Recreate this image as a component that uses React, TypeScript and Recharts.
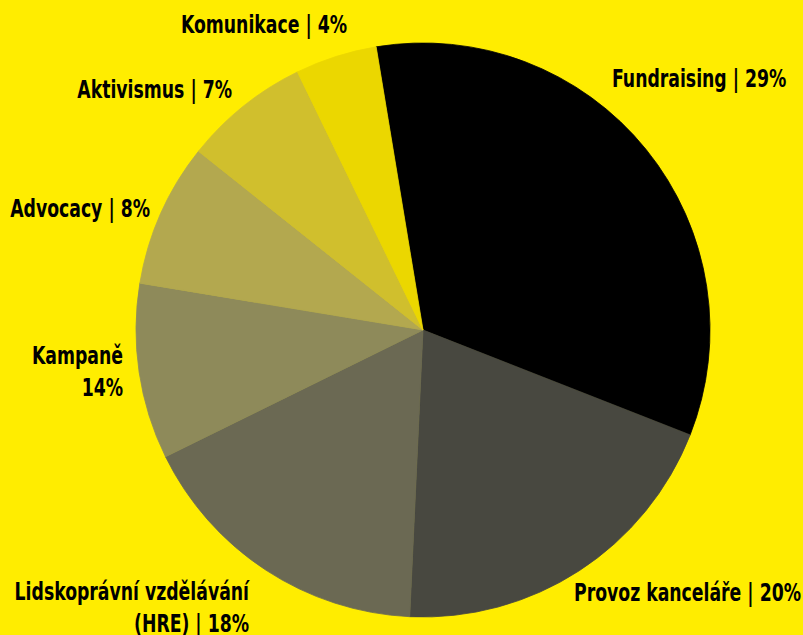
import { PieChart, Pie, Cell } from 'recharts'

// slice sizes (percent of the circle)
const categories = [
  'Fundraising',
  'Provoz kanceláře',
  'Lidskoprávní vzdělávání',
  'Kampaně',
  'Advocacy',
  'Aktivismus',
  'Komunikace',
]
const values = [33.6, 19.8, 17.0, 9.9, 8.1, 7.1, 4.6]
// label text as printed (line breaks where the reference breaks)
const labelLines = [
  ['Fundraising | 29%'],
  ['Provoz kanceláře | 20%'],
  ['Lidskoprávní vzdělávání', '(HRE) | 18%'],
  ['Kampaně', '14%'],
  ['Advocacy | 8%'],
  ['Aktivismus | 7%'],
  ['Komunikace | 4%'],
]
const colors = ['#000000', '#484840', '#6b6953', '#8e8a5a', '#b3a84f', '#d0bf2d', '#ebd700']

// where each label sits: aligned edge x, vertical centre y, alignment
const labelPos = [
  { x: 612, y: 78, anchor: 'start' },
  { x: 574, y: 592, anchor: 'start' },
  { x: 249, y: 607, anchor: 'end' },
  { x: 123, y: 371, anchor: 'end' },
  { x: 150, y: 208, anchor: 'end' },
  { x: 232, y: 89, anchor: 'end' },
  { x: 347, y: 24, anchor: 'end' },
]

const data = categories.map((name, i) => ({ name, value: values[i] }))

const FONT = '"Liberation Sans Narrow", "DejaVu Sans Condensed", sans-serif'
const SQUEEZE = 0.8 // no narrow font installed, so condense horizontally

function renderLabel(props: any) {
  const { index } = props
  const pos = labelPos[index]
  const lines = labelLines[index]
  const lineHeight = 32
  const top = -((lines.length - 1) * lineHeight) / 2
  return (
    <g transform={`translate(${pos.x},${pos.y}) scale(${SQUEEZE},1)`}>
      <text
        x={0}
        y={top}
        textAnchor={pos.anchor as any}
        dominantBaseline="central"
        fill="#000"
        fontFamily={FONT}
        fontWeight={700}
        fontSize={24}
      >
        {lines.map((line, i) => (
          <tspan key={i} x={0} dy={i === 0 ? 0 : lineHeight}>
            {line}
          </tspan>
        ))}
      </text>
    </g>
  )
}

export default function App() {
  return (
    <div style={{ position: 'fixed', left: 0, top: 0, width: 803, height: 635, background: '#ffed00' }}>
      <PieChart width={803} height={635} margin={{ top: 0, right: 0, bottom: 0, left: 0 }}>
        <Pie
          data={data}
          dataKey="value"
          nameKey="name"
          cx={423}
          cy={330}
          outerRadius={287}
          startAngle={99.4}
          endAngle={-260.6}
          label={renderLabel}
          labelLine={false}
          isAnimationActive={false}
        >
          {data.map((d, i) => (
            <Cell key={d.name} fill={colors[i]} stroke={colors[i]} strokeWidth={0.8} />
          ))}
        </Pie>
      </PieChart>
    </div>
  )
}
